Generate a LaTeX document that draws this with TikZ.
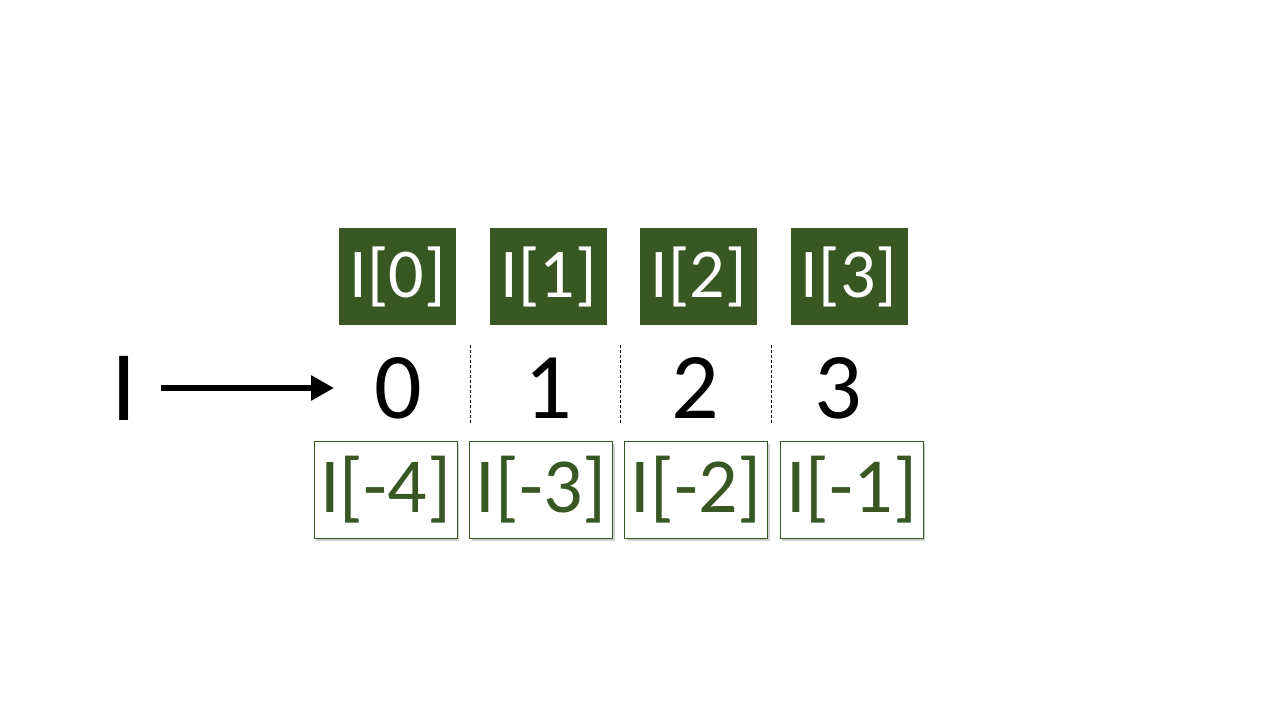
\documentclass[tikz,border=0pt]{standalone}
\usepackage{fontspec}
\setmainfont{Carlito}
\usetikzlibrary{arrows.meta,shadows}
\definecolor{dkgreen}{HTML}{385723}
\tikzset{
  topbox/.style={fill=dkgreen, text=white, minimum width=117pt, minimum height=97pt, inner sep=0pt,
    font=\fontsize{70}{70}\selectfont},
  botbox/.style={draw=dkgreen, line width=0.9pt, fill=white, text=dkgreen, minimum width=143pt, minimum height=97pt, inner sep=0pt,
    font=\fontsize{78}{78}\selectfont,
    drop shadow={shadow xshift=2pt, shadow yshift=-2.5pt, opacity=0.18, fill=black}},
  digit/.style={text=black, inner sep=0pt, anchor=base, font=\fontsize{94}{94}\selectfont},
  sep/.style={black, line width=0.8pt, dash pattern=on 3pt off 2pt},
  pointer/.style={black, line width=6pt, -{Triangle[length=23pt,width=24pt]}}
}
\begin{document}
\begin{tikzpicture}[x=1pt,y=-1pt]
\useasboundingbox (0,0) rectangle (1280,720);
\fill[white] (0,0) rectangle (1280,720);
% top boxes
\node[topbox] (t0) at (397.5,276.5) {I[0]};
\node[topbox] (t1) at (548.5,276.5) {I[1]};
\node[topbox] (t2) at (698.5,276.5) {I[2]};
\node[topbox] (t3) at (849,276.5) {I[3]};
% digits
\node[digit] (d0) at (398,418) {0};
\node[digit] (d1) at (548,418) {1};
\node[digit] (d2) at (695,418) {2};
\node[digit] (d3) at (838,418) {3};
% left label and arrow
\node[inner sep=0pt, anchor=base, font=\fontsize{100}{100}\selectfont] (lbl) at (124,420) {I};
\coordinate (as) at (161,388);
\coordinate (ae) at (334,388);
\draw[pointer] (as) -- (ae);
% separators
\coordinate (s1a) at (470,345); \coordinate (s1b) at (470,423);
\coordinate (s2a) at (620,345); \coordinate (s2b) at (620,423);
\coordinate (s3a) at (771,345); \coordinate (s3b) at (771,423);
\draw[sep] (s1a) -- (s1b);
\draw[sep] (s2a) -- (s2b);
\draw[sep] (s3a) -- (s3b);
% bottom boxes
\node[botbox] (b0) at (385.5,489.5) {I[-4]};
\node[botbox] (b1) at (541,489.5) {I[-3]};
\node[botbox] (b2) at (696,489.5) {I[-2]};
\node[botbox] (b3) at (851.5,489.5) {I[-1]};
\end{tikzpicture}
\end{document}
